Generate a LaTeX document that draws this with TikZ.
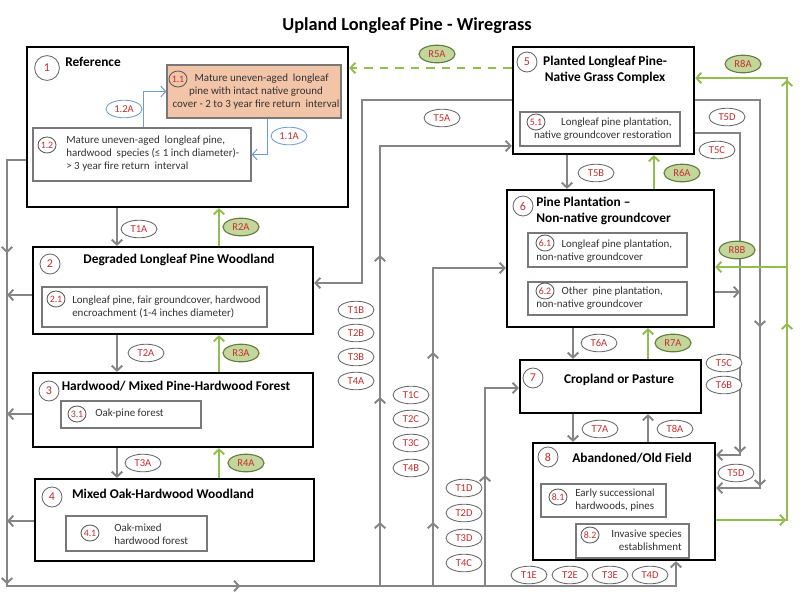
\documentclass[tikz,border=0pt]{standalone}
\usepackage{fontspec}
\setmainfont{Carlito}
\usetikzlibrary{arrows.meta, shapes.geometric, fit, decorations.markings}

\definecolor{linegray}{RGB}{133,133,133}
\definecolor{boxgray}{RGB}{120,120,120}
\definecolor{numred}{RGB}{200,45,45}
\definecolor{restgreen}{RGB}{146,190,80}
\definecolor{labgreen}{RGB}{195,214,155}
\definecolor{labgreenline}{RGB}{100,125,60}
\definecolor{refblue}{RGB}{110,155,210}
\definecolor{refpeach}{RGB}{242,196,168}

\begin{document}
\begin{tikzpicture}[x=0.025cm, y=-0.025cm,
  >={Straight Barb[length=3.5pt,width=7.5pt]},
  statebox/.style={draw=black, line width=1.6pt, fill=white, inner sep=0pt},
  subbox/.style={draw=boxgray, line width=0.8pt, fill=white, inner sep=0pt},
  stname/.style={font=\fontsize{9.5}{11.5}\selectfont\bfseries, inner sep=0pt},
  subtxt/.style={font=\fontsize{7.8}{9.2}\selectfont, text=black!80, inner sep=0pt},
  stnum/.style={circle, draw=black!60, line width=0.6pt, fill=white, minimum size=0.5cm, inner sep=0pt, text=numred, font=\fontsize{8.5}{10}\selectfont},
  subnum/.style={ellipse, draw=black!65, line width=0.6pt, minimum width=0.45cm, minimum height=0.4cm, inner sep=0pt, text=numred, font=\fontsize{7}{8}\selectfont},
  tlab/.style={ellipse, draw=black!60, line width=0.6pt, fill=white, minimum width=0.9cm, minimum height=0.44cm, inner sep=0pt, text=numred, font=\fontsize{7.5}{8}\selectfont},
  rlab/.style={tlab, draw=labgreenline, fill=labgreen, line width=0.8pt},
  blab/.style={tlab, draw=refblue},
  trans/.style={draw=linegray, line width=1.4pt, ->},
  rest/.style={draw=restgreen, line width=1.4pt, ->},
  within/.style={draw=refblue, line width=0.7pt, ->},
  midtips/.style={postaction={decorate, decoration={markings, #1}}}
]
\useasboundingbox (0,0) rectangle (800,600);

\node[font=\fontsize{13}{15}\selectfont\bfseries] (ttl) at (407,26) {Upland Longleaf Pine - Wiregrass};

\node[statebox, fit={(27,47) (348,207)}] (s1) {};
\node[statebox, fit={(33,247) (313,334)}] (s2) {};
\node[statebox, fit={(33,373) (313,447)}] (s3) {};
\node[statebox, fit={(35,479) (314,561)}] (s4) {};
\node[statebox, fit={(513,47) (694,154)}] (s5) {};
\node[statebox, fit={(507,190) (714,327)}] (s6) {};
\node[statebox, fit={(520,360) (701,413)}] (s7) {};
\node[statebox, fit={(533,443) (715,560)}] (s8) {};

\node[subbox, fill=refpeach, fit={(167,65) (341,118)}] (b11) {};
\node[subbox, fit={(33,128) (251,181)}] (b12) {};
\node[subbox, fit={(42,287) (267,327)}] (b21) {};
\node[subbox, fit={(61,401) (201,428)}] (b31) {};
\node[subbox, fit={(66,516) (207,551)}] (b41) {};
\node[subbox, fit={(520,112) (680,146)}] (b51) {};
\node[subbox, fit={(528,233) (687,267)}] (b61) {};
\node[subbox, fit={(528,282) (687,315)}] (b62) {};
\node[subbox, fit={(541,484) (666,517)}] (b81) {};
\node[subbox, fit={(576,524) (689,558)}] (b82) {};

\node[stname, anchor=west] (h1) at (65,62) {Reference};
\node[stname] (h2) at (179,260) {Degraded Longleaf Pine Woodland};
\node[stname] (h3) at (176,386) {Hardwood/ Mixed Pine-Hardwood Forest};
\node[stname] (h4) at (163,494) {Mixed Oak-Hardwood Woodland};
\node[stname, align=center] (h5) at (605,70) {Planted Longleaf Pine-\\Native Grass Complex};
\node[stname, align=left, anchor=west] (h6) at (536,211) {Pine Plantation --\\Non-native groundcover};
\node[stname] (h7) at (619,380) {Cropland or Pasture};
\node[stname] (h8) at (632,458) {Abandoned/Old Field};

\node[subtxt, align=center] (x11) at (256,92) {\hspace*{8pt}Mature uneven-aged\ \ longleaf\\pine with intact native ground\\cover - 2 to 3 year fire return\ \ interval};
\node[subtxt, anchor=west, align=left] (x12) at (66,154) {Mature uneven-aged\ \ longleaf pine,\\hardwood\ \ species (≤ 1 inch diameter)-\\> 3 year fire return\ \ interval};
\node[subtxt, anchor=west, align=left] (x21) at (72,306.5) {Longleaf pine, fair groundcover, hardwood\\encroachment (1-4 inches diameter)};
\node[subtxt, anchor=west] (x31) at (95,414) {Oak-pine forest};
\node[subtxt, anchor=west, align=left] (x41) at (114,534) {Oak-mixed\\hardwood forest};
\node[subtxt, anchor=east, align=right] (x51) at (672,129.5) {Longleaf pine plantation,\\native groundcover restoration};
\node[subtxt, anchor=west, align=left] (x61) at (536,251) {\hspace*{18pt}Longleaf pine plantation,\\non-native groundcover};
\node[subtxt, anchor=west, align=left] (x62) at (536,298.5) {\hspace*{18pt}Other\ \ pine plantation,\\non-native groundcover};
\node[subtxt, anchor=west, align=left] (x81) at (575,500) {Early successional\\hardwoods, pines};
\node[subtxt, anchor=east, align=right] (x82) at (682,540) {Invasive species\\establishment};

\node[stnum, minimum size=0.62cm] (n1) at (47,68) {1};
\node[stnum] (n2) at (50,264) {2};
\node[stnum] (n3) at (49,391) {3};
\node[stnum] (n4) at (52,497) {4};
\node[stnum] (n5) at (527,62) {5};
\node[stnum] (n6) at (523,206) {6};
\node[stnum] (n7) at (533,378) {7};
\node[stnum] (n8) at (548,457) {8};

\node[subnum] (n11) at (178,79) {1.1};
\node[subnum] (n12) at (47,145) {1.2};
\node[subnum] (n21) at (56,299) {2.1};
\node[subnum] (n31) at (77,414) {3.1};
\node[subnum] (n41) at (90,533) {4.1};
\node[subnum] (n51) at (536,122) {5.1};
\node[subnum] (n61) at (545,243) {6.1};
\node[subnum] (n62) at (545,291) {6.2};
\node[subnum] (n81) at (558,497) {8.1};
\node[subnum] (n82) at (590,535) {8.2};

\coordinate (lt) at (7,160);
\coordinate (lb) at (7,586);
\coordinate (rb) at (676,586);
\coordinate (b380) at (380,586);
\coordinate (b433) at (433,586);
\coordinate (b485) at (485,586);
\coordinate (g8) at (787,267);

\draw[within] (b12.north -| 143,0) |- (b11.west);
\draw[within] (b11.south -| 267,0) |- (b12.east);
\draw[rest, dash pattern=on 6pt off 5pt] (s5.west |- 0,68) -- (s1.east |- 0,68);

\draw[trans] (s1.south -| 117,0) -- (s2.north -| 117,0);
\draw[rest] (s2.north -| 219,0) -- (s1.south -| 219,0);
\draw[trans] (s2.south -| 117,0) -- (s3.north -| 117,0);
\draw[rest] (s3.north -| 219,0) -- (s2.south -| 219,0);
\draw[trans] (s3.south -| 117,0) -- (s4.north -| 117,0);
\draw[rest] (s4.north -| 219,0) -- (s3.south -| 219,0);
\draw[trans] (s5.south -| 567,0) -- (s6.north -| 567,0);
\draw[rest] (s6.north -| 654,0) -- (s5.south -| 654,0);
\draw[trans] (s6.south -| 573,0) -- (s7.north -| 573,0);
\draw[rest] (s7.north -| 648,0) -- (s6.south -| 648,0);
\draw[trans] (s7.south -| 573,0) -- (s8.north -| 573,0);
\draw[trans] (s8.north -| 648,0) -- (s7.south -| 648,0);

\draw[trans, midtips={mark=at position 2.8cm with {\arrow{>}}, mark=at position 11.075cm with {\arrow{>}}, mark=at position 16.95cm with {\arrow{>}}}] (s1.west |- lt) -- (lt) -- (lb) -- (rb) -- (s8.south -| rb);
\draw[trans] (s2.west |- 0,295) -- (lt |- 0,295);
\draw[trans] (s3.west |- 0,414) -- (lt |- 0,414);
\draw[trans] (s4.west |- 0,521) -- (lt |- 0,521);

\draw[trans, midtips={mark=at position 1.6cm with {\arrow{>}}, mark=at position 4.725cm with {\arrow{>}}, mark=at position 8.275cm with {\arrow{>}}}] (b380) |- (s5.west |- 0,146);
\draw[trans, midtips={mark=at position 1.6cm with {\arrow{>}}, mark=at position 5.85cm with {\arrow{>}}}] (b433) |- (s6.west |- 0,268);
\draw[trans, midtips={mark=at position 2.775cm with {\arrow{>}}}] (b485) |- (s7.west |- 0,388);

\draw[trans] (s5.west |- 0,100) -- (362,100) -- (362,283) -- (s2.east |- 0,283);
\draw[trans, midtips={mark=at position 7.3cm with {\arrow{>}}, mark=at position 11.275cm with {\arrow{>}}}] (s5.east |- 0,100) -- (760,100) -- (760,488) -- (s8.east |- 0,488);
\draw[trans, midtips={mark=at position 9.125cm with {\arrow{>}}}] (s5.east |- 0,133) -- (740,133) -- (740,455) -- (s8.east |- 0,455);
\draw[trans] (s6.east |- 0,292) -- (740,292);
\draw[rest, midtips={mark=at position 1.75cm with {\arrow{>}}, mark=at position 6.7cm with {\arrow{>}}, mark=at position 12.775cm with {\arrow{>}}}] (s8.east |- 0,520) -- (787,520) -- (787,78) -- (s5.east |- 0,78);
\draw[rest] (g8) -- (s6.east |- g8);

\node[blab] (a12) at (124,109) {1.2A};
\node[blab] (a11) at (289,136) {1.1A};
\node[rlab] (r5a) at (437,54) {R5A};
\node[tlab] (t5a) at (442,118) {T5A};
\node[tlab] (t5d1) at (727,117) {T5D};
\node[tlab] (t5c1) at (717,150) {T5C};
\node[rlab] (r8a) at (743,64) {R8A};
\node[tlab] (t1a) at (139,229) {T1A};
\node[rlab] (r2a) at (241,227) {R2A};
\node[tlab] (t5b) at (596,173) {T5B};
\node[rlab] (r6a) at (682,173) {R6A};
\node[rlab] (r8b) at (737,250) {R8B};
\node[tlab] (t2a) at (146,353) {T2A};
\node[rlab] (r3a) at (241,353) {R3A};
\node[tlab] (t1b) at (356,310) {T1B};
\node[tlab] (t2b) at (356,333) {T2B};
\node[tlab] (t3b) at (356,357) {T3B};
\node[tlab] (t4a) at (356,381) {T4A};
\node[tlab] (t6a) at (599,343) {T6A};
\node[rlab] (r7a) at (673,343) {R7A};
\node[tlab] (t5c2) at (724,363) {T5C};
\node[tlab] (t6b) at (724,385) {T6B};
\node[tlab] (t1c) at (411,395) {T1C};
\node[tlab] (t2c) at (411,419) {T2C};
\node[tlab] (t3c) at (411,443) {T3C};
\node[tlab] (t4b) at (411,468) {T4B};
\node[tlab] (t3a) at (143,463) {T3A};
\node[rlab] (r4a) at (246,463) {R4A};
\node[tlab] (t7a) at (600,429) {T7A};
\node[tlab] (t8a) at (675,429) {T8A};
\node[tlab] (t5d2) at (736,473) {T5D};
\node[tlab] (t1d) at (464,488) {T1D};
\node[tlab] (t2d) at (464,513) {T2D};
\node[tlab] (t3d) at (464,538) {T3D};
\node[tlab] (t4c) at (464,563) {T4C};
\node[tlab] (t1e) at (529,575) {T1E};
\node[tlab] (t2e) at (570,575) {T2E};
\node[tlab] (t3e) at (610,575) {T3E};
\node[tlab] (t4d) at (650,575) {T4D};
\end{tikzpicture}
\end{document}
